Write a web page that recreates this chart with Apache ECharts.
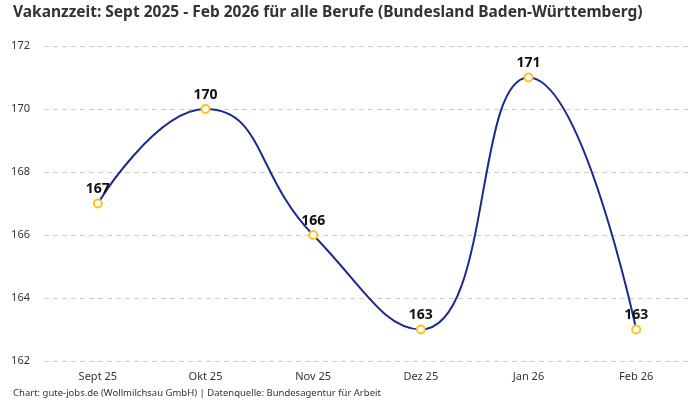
<!DOCTYPE html>
<html>
<head>
<meta charset="utf-8">
<script src="https://cdn.jsdelivr.net/npm/echarts@6/dist/echarts.min.js"></script>
<style>
html,body{margin:0;padding:0;background:#fff;}
#chart{width:700px;height:400px;}
</style>
</head>
<body>
<div id="chart"></div>
<script>
const categories = ['Sept 25', 'Okt 25', 'Nov 25', 'Dez 25', 'Jan 26', 'Feb 26'];
const values = [167, 170, 166, 163, 171, 163];
const titleText = 'Vakanzzeit: Sept 2025 - Feb 2026 für alle Berufe (Bundesland Baden-Württemberg)';
const footerText = 'Chart: gute-jobs.de (Wollmilchsau GmbH) | Datenquelle: Bundesagentur für Arbeit';

const FONT = '"Noto Sans", sans-serif';
const chart = echarts.init(document.getElementById('chart'), null, {renderer: 'canvas'});
chart.setOption({
  backgroundColor: '#fff',
  animation: false,
  textStyle: {fontFamily: FONT},
  title: [
    {text: titleText, left: 8, top: 0, textStyle: {fontFamily: FONT, fontSize: 15.5, fontWeight: 'bold', color: '#333'}},
    {text: footerText, left: 8, bottom: -3, textStyle: {fontFamily: FONT, fontSize: 9.5, fontWeight: 'normal', color: '#333'}}
  ],
  grid: {left: 44, right: 10, top: 46, bottom: 39, outerBoundsMode: 'none', containLabel: false},
  xAxis: {
    type: 'category',
    data: categories,
    boundaryGap: true,
    axisLine: {show: false},
    axisTick: {show: false},
    axisLabel: {color: '#333', fontSize: 11, margin: 10, fontFamily: FONT}
  },
  yAxis: {
    type: 'value',
    min: 162, max: 172, interval: 2,
    axisLine: {show: false},
    axisTick: {show: false},
    axisLabel: {color: '#333', fontSize: 11, margin: 14, fontFamily: FONT},
    splitLine: {lineStyle: {color: '#ccc', type: [5, 4], width: 1}}
  },
  series: [{
    type: 'line',
    data: values,
    smooth: 0.5,
    symbol: 'circle',
    symbolSize: 8,
    showAllSymbol: true,
    lineStyle: {color: '#1b2a8c', width: 2},
    itemStyle: {color: '#fff', borderColor: '#fcc31e', borderWidth: 2},
    label: {show: true, position: 'top', distance: 2, color: '#111', fontSize: 14, fontWeight: 'bold', fontFamily: FONT}
  }]
});
</script>
</body>
</html>
